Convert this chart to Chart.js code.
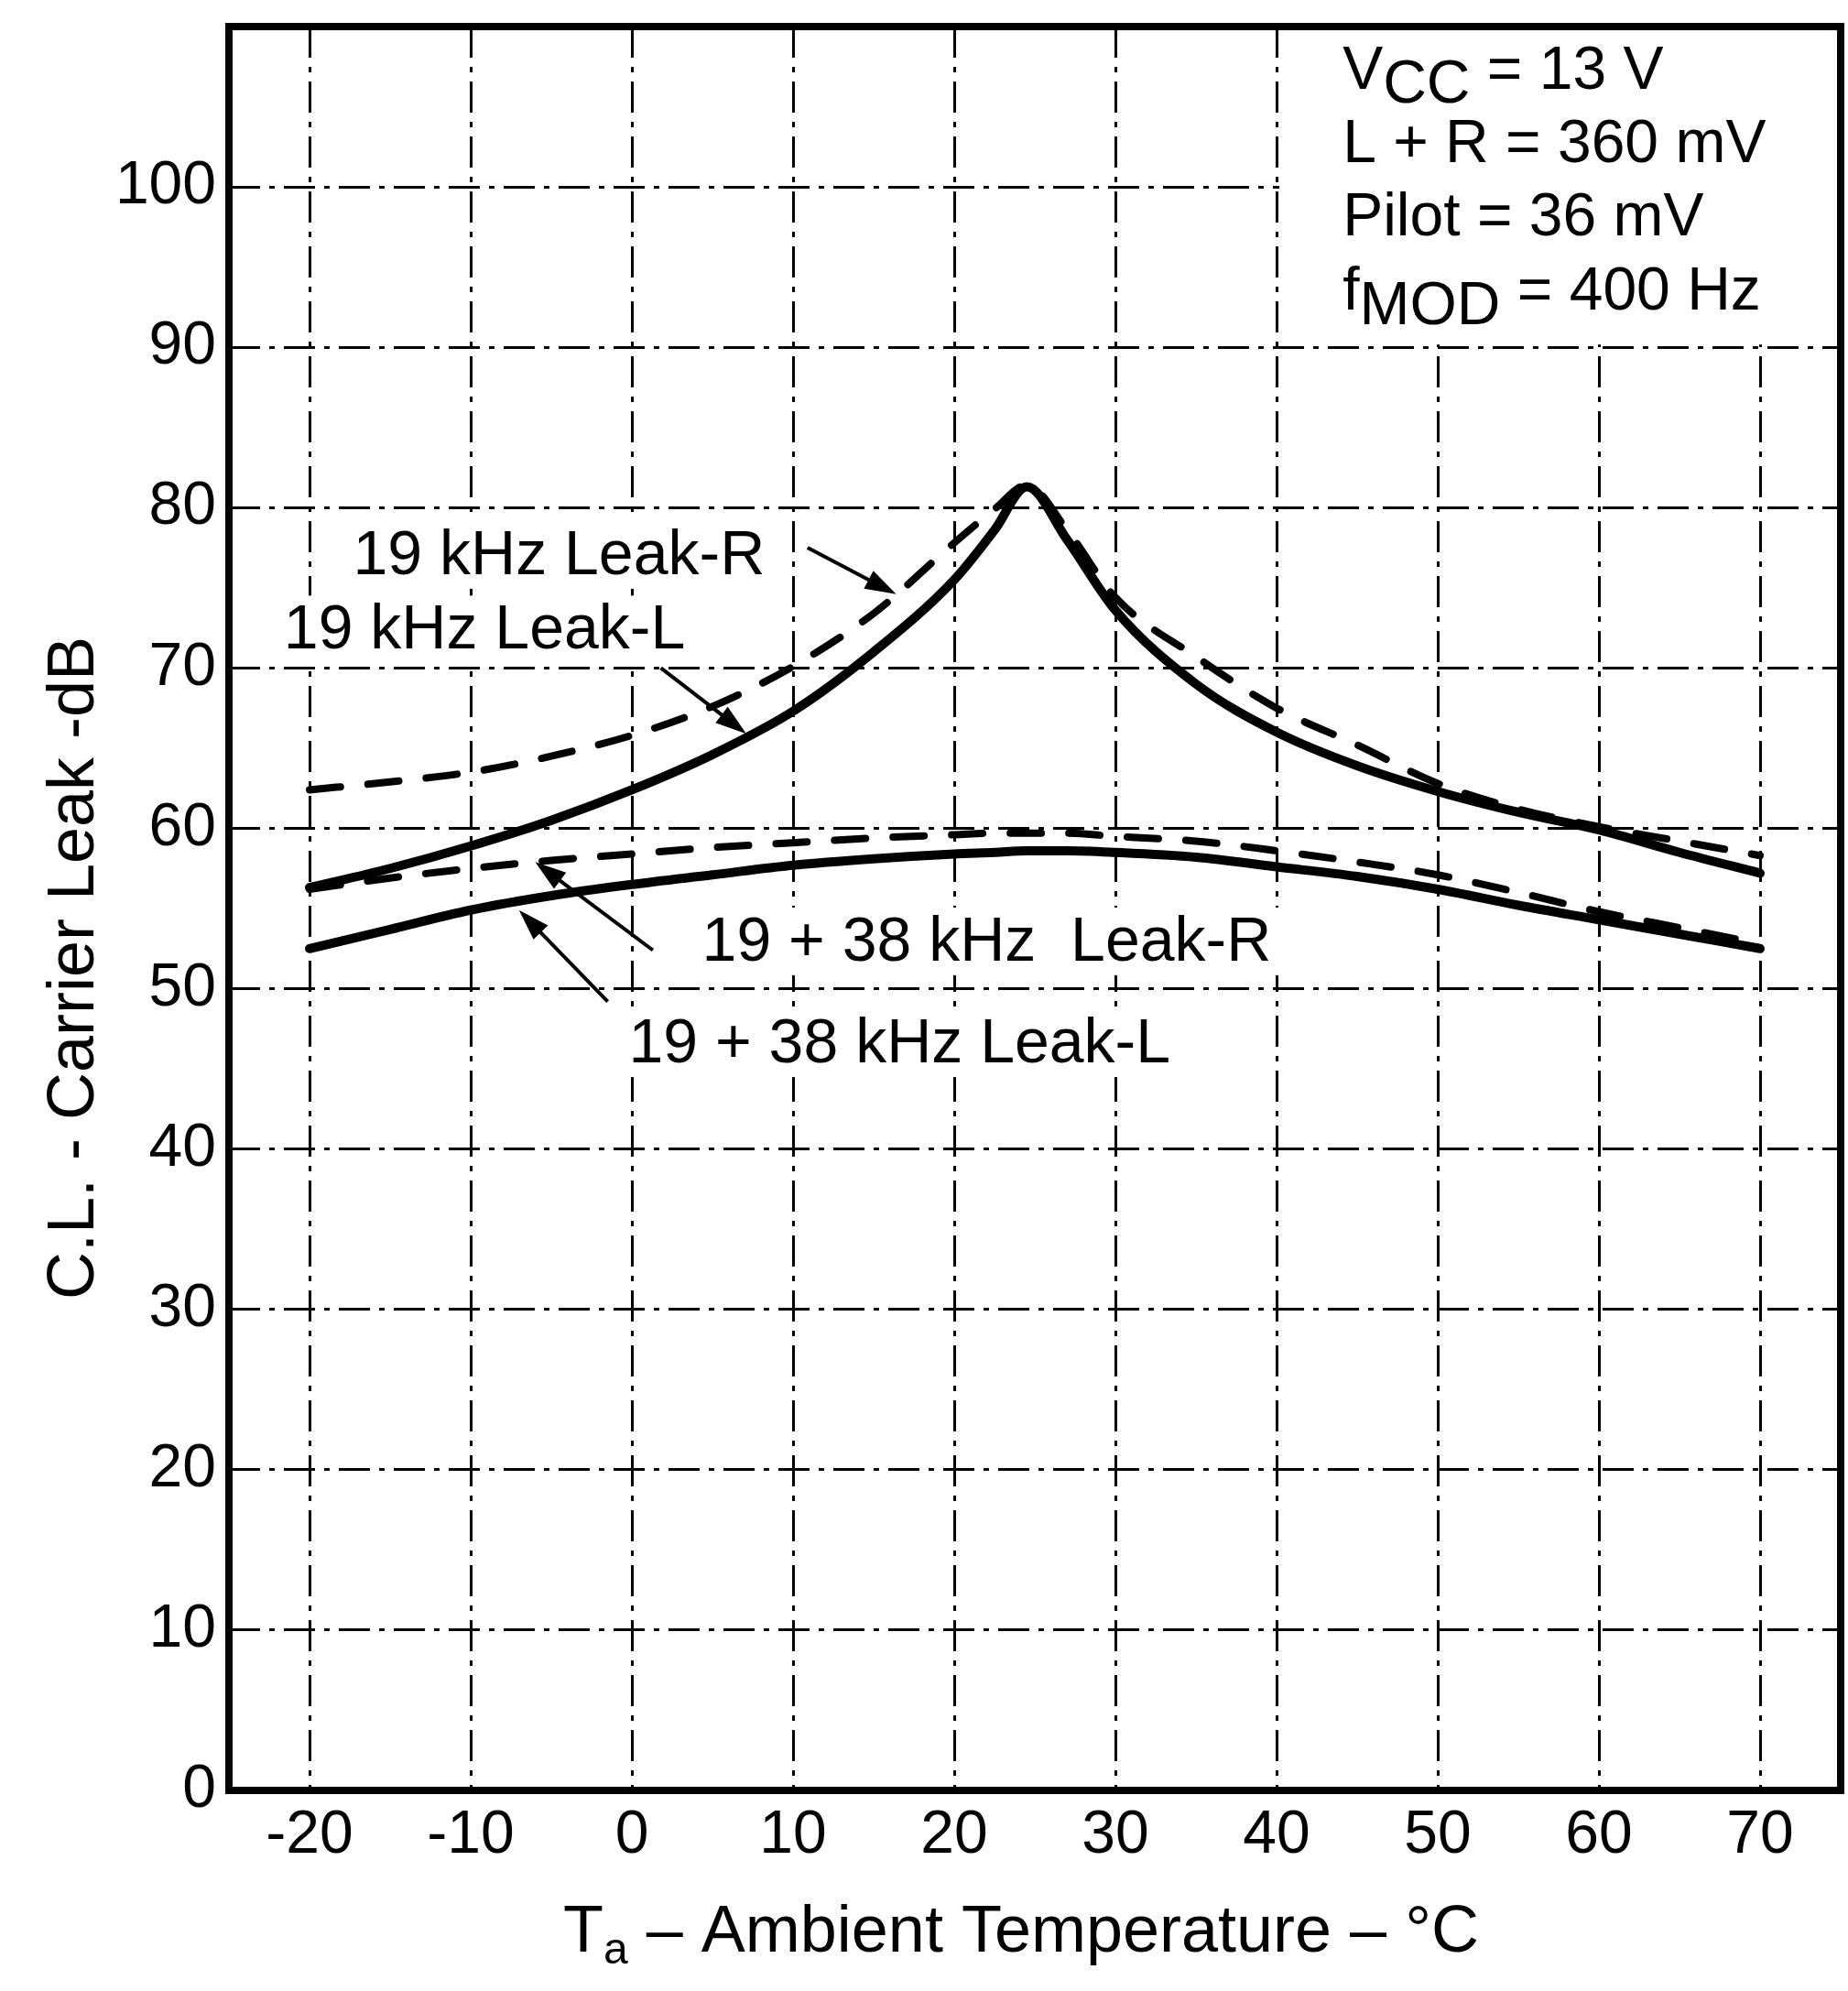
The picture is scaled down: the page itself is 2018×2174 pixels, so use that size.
<!DOCTYPE html>
<html lang="en">
<head>
<meta charset="utf-8">
<title>C.L. - Carrier Leak vs Ambient Temperature</title>
<script src="https://cdn.jsdelivr.net/npm/chart.js"></script>
<style>
  html, body { margin: 0; padding: 0; background: #fff; }
  #wrap { width: 2018px; height: 2174px; }
</style>
</head>
<body>
<div id="wrap"><canvas id="myChart" width="2018" height="2174"></canvas></div>
<script>
// values (Ta in degC, carrier leak in dB)
const temps = [-20, -15, -10, -5, 0, 5, 10, 15, 20, 22.5, 24.5, 27, 30, 35, 40, 45, 50, 55, 60, 65, 70];
const leak19R = [62.4, 62.9, 63.5, 64.5, 65.8, 67.6, 70.1, 73.4, 77.8, 79.9, 81.4, 78.6, 74.4, 70.7, 67.5, 65.2, 62.8, 61.2, 60.1, 59.2, 58.3];
const leak19L = [56.3, 57.5, 58.9, 60.5, 62.4, 64.6, 67.3, 71.0, 75.5, 78.6, 81.3, 78.0, 73.6, 69.0, 66.0, 63.9, 62.3, 61.0, 59.9, 58.5, 57.2];
const leak1938R = [56.2, 56.9, 57.5, 58.0, 58.4, 58.8, 59.1, 59.4, 59.6, 59.7, 59.7, 59.7, 59.5, 59.2, 58.6, 57.9, 57.1, 56.0, 54.8, 53.8, 52.8];
const leak1938L = [52.5, 53.7, 54.9, 55.8, 56.5, 57.1, 57.7, 58.1, 58.4, 58.5, 58.6, 58.6, 58.5, 58.2, 57.6, 57.0, 56.2, 55.2, 54.3, 53.4, 52.5];

const xTicks = [-20, -10, 0, 10, 20, 30, 40, 50, 60, 70];
const yTicks = [0, 10, 20, 30, 40, 50, 60, 70, 80, 90, 100];

const FONT = '"Liberation Sans", Arial, Helvetica, sans-serif';
Chart.defaults.font.family = FONT;
Chart.defaults.color = '#000';

const pts = arr => temps.map((t, i) => ({ x: t, y: arr[i] }));

// curve labels and their pointer arrows, placed in data units
const notes = [
  { text: '19 kHz Leak-R', x: -17.3, y: 75.85, from: [10.9, 77.5], to: [16.4, 74.6] },
  { text: '19 kHz Leak-L', x: -21.6, y: 71.2, from: [1.8, 70.0], to: [7.1, 65.9] },
  { text: '19 + 38 kHz  Leak-R', x: 4.35, y: 51.75, from: [1.3, 52.4], to: [-6.0, 57.9] },
  { text: '19 + 38 kHz Leak-L', x: -0.2, y: 45.4, from: [-1.5, 49.2], to: [-7.0, 54.9] }
];

// test conditions box (top right)
const conditions = [
  [{ t: 'V' }, { t: 'CC', dy: 15 }, { t: ' = 13 V' }],
  [{ t: 'L + R = 360 mV' }],
  [{ t: 'Pilot = 36 mV' }],
  [{ t: 'f' }, { t: 'MOD', dy: 16 }, { t: ' = 400 Hz' }]
];

function drawRuns(ctx, x, y, runs, size) {
  runs.forEach(r => {
    ctx.font = (r.size || size) + 'px ' + FONT;
    ctx.fillText(r.t, x, y + (r.dy || 0));
    x += ctx.measureText(r.t).width;
  });
}

function arrow(ctx, x1, y1, x2, y2) {
  const ang = Math.atan2(y2 - y1, x2 - x1);
  const len = 34, hw = 11;
  ctx.lineWidth = 4;
  ctx.beginPath();
  ctx.moveTo(x1, y1);
  ctx.lineTo(x2 - Math.cos(ang) * len * 0.8, y2 - Math.sin(ang) * len * 0.8);
  ctx.stroke();
  ctx.beginPath();
  ctx.moveTo(x2, y2);
  ctx.lineTo(x2 - Math.cos(ang) * len - Math.sin(ang) * hw, y2 - Math.sin(ang) * len + Math.cos(ang) * hw);
  ctx.lineTo(x2 - Math.cos(ang) * len + Math.sin(ang) * hw, y2 - Math.sin(ang) * len - Math.cos(ang) * hw);
  ctx.closePath();
  ctx.fill();
}

const overlay = {
  id: 'overlay',
  beforeDatasetsDraw(chart) {
    const { ctx, chartArea: a, scales: { x, y } } = chart;
    ctx.save();
    ctx.fillStyle = '#fff';
    // blank the grid behind the conditions box
    const bx = x.getPixelForValue(40) + 3, by = y.getPixelForValue(90) - 3;
    ctx.fillRect(bx, a.top, a.right - bx, by - a.top);
    // blank the grid behind the curve labels
    ctx.font = '68px ' + FONT;
    notes.forEach(n => {
      const px = x.getPixelForValue(n.x), py = y.getPixelForValue(n.y);
      ctx.fillRect(px - 8, py - 58, ctx.measureText(n.text).width + 16, 74);
    });
    ctx.restore();
  },
  afterDatasetsDraw(chart) {
    const { ctx, chartArea: a, scales: { x, y } } = chart;
    ctx.save();
    ctx.fillStyle = '#000';
    ctx.strokeStyle = '#000';
    ctx.textBaseline = 'alphabetic';
    ctx.textAlign = 'left';

    ctx.font = '68px ' + FONT;
    notes.forEach(n => {
      ctx.fillText(n.text, x.getPixelForValue(n.x), y.getPixelForValue(n.y));
      arrow(ctx, x.getPixelForValue(n.from[0]), y.getPixelForValue(n.from[1]),
        x.getPixelForValue(n.to[0]), y.getPixelForValue(n.to[1]));
    });

    const cx = x.getPixelForValue(44.1);
    [106.1, 101.55, 97.0, 92.35].forEach((v, i) => {
      drawRuns(ctx, cx, y.getPixelForValue(v), conditions[i], 66);
    });

    // heavy frame
    ctx.lineWidth = 8;
    ctx.strokeRect(a.left, a.top, a.right - a.left, a.bottom - a.top);

    // x axis title with subscript
    const parts = [{ t: 'T' }, { t: 'a', size: 48, dy: 13 }, { t: ' \u2013 Ambient Temperature \u2013 \u00B0C' }];
    let w = 0;
    parts.forEach(p => { ctx.font = (p.size || 72) + 'px ' + FONT; w += ctx.measureText(p.t).width; });
    drawRuns(ctx, (a.left + a.right) / 2 - 15 - w / 2, 2131, parts, 72);

    // y axis title
    ctx.translate(102, 1057);
    ctx.rotate(-Math.PI / 2);
    ctx.font = '72px ' + FONT;
    ctx.textAlign = 'center';
    ctx.fillText('C.L. - Carrier Leak -dB', 0, 0);
    ctx.restore();
  }
};

const gridStyle = { color: '#000', lineWidth: 3, drawTicks: false };
const borderStyle = { display: false, dash: [34, 10, 6, 10] };

const curve = (label, arr, dashed) => ({
  label: label,
  data: pts(arr),
  borderColor: '#000',
  borderWidth: dashed ? 8 : 10,
  borderDash: dashed ? [34, 30] : [],
  borderCapStyle: 'round',
  pointRadius: 0,
  fill: false,
  cubicInterpolationMode: 'monotone'
});

const config = {
  type: 'line',
  data: {
    datasets: [
      curve('19 kHz Leak-R', leak19R, true),
      curve('19 kHz Leak-L', leak19L, false),
      curve('19 + 38 kHz Leak-R', leak1938R, true),
      curve('19 + 38 kHz Leak-L', leak1938L, false)
    ]
  },
  options: {
    responsive: false,
    devicePixelRatio: 1,
    animation: false,
    layout: { padding: { top: 29, right: 8, left: 0, bottom: 0 } },
    plugins: { legend: { display: false }, tooltip: { enabled: false } },
    scales: {
      x: {
        type: 'linear',
        min: -25,
        max: 75,
        afterBuildTicks: s => { s.ticks = xTicks.map(v => ({ value: v })); },
        afterFit: s => { s.height = 219; s.paddingLeft = 0; s.paddingRight = 0; },
        grid: gridStyle,
        border: borderStyle,
        ticks: {
          font: { size: 66 },
          color: '#000',
          padding: 10,
          autoSkip: false,
          maxRotation: 0,
          callback: v => (v < 0 ? '-' + (-v) : String(v))
        }
      },
      y: {
        type: 'linear',
        min: 0,
        max: 110,
        afterBuildTicks: s => { s.ticks = yTicks.map(v => ({ value: v })); },
        afterFit: s => { s.width = 250; s.paddingTop = 0; s.paddingBottom = 0; },
        grid: gridStyle,
        border: borderStyle,
        ticks: { font: { size: 66 }, color: '#000', padding: 14, autoSkip: false }
      }
    }
  },
  plugins: [overlay]
};

const myChart = new Chart(document.getElementById('myChart'), config);
</script>
</body>
</html>
